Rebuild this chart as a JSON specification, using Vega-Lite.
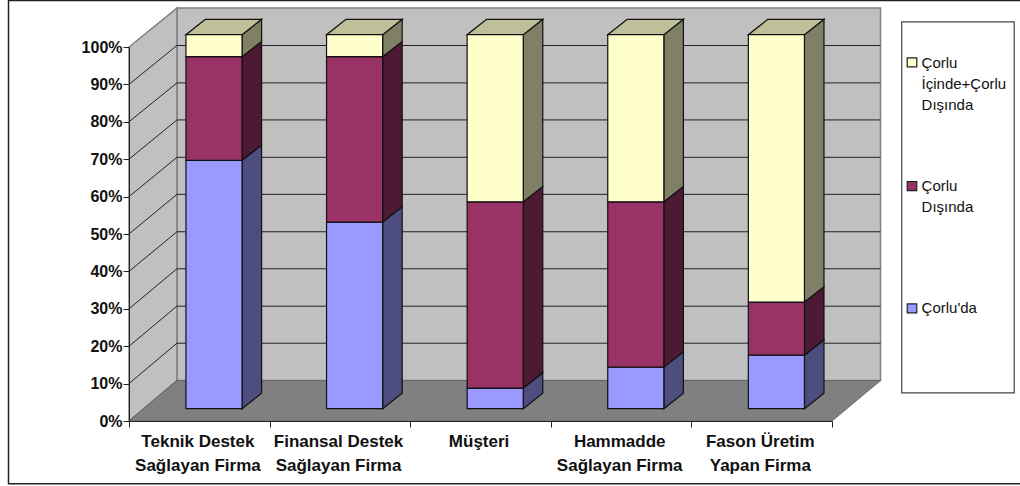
{
"$schema":"https://vega.github.io/schema/vega-lite/v6.json",
"width":703,"height":374,"autosize":"none",
"padding":{"left":129,"top":47,"right":188,"bottom":65},
"background":"white",
"config":{"view":{"stroke":null},"font":"Liberation Sans"},
"datasets":{
"frame":[{"part":"chart","x":-0.857,"x2":6.37,"y":112.4,"y2":-16.8}],
"backwall":[{"x":0.341,"x2":5.345,"y":10.8,"y2":110.4}],
"leftwall":[{"x":0,"y":0,"y2":100},{"x":0.341,"y":10.8,"y2":110.4}],
"floor":[{"x":0,"x2":5,"y":0},{"x":0.341,"x2":5.345,"y":10.8}],
"grid":[
{"x":0,"x2":0.341,"y":10,"y2":20.8},{"x":0,"x2":0.341,"y":20,"y2":30.7},{"x":0,"x2":0.341,"y":30,"y2":40.7},{"x":0,"x2":0.341,"y":40,"y2":50.6},{"x":0,"x2":0.341,"y":50,"y2":60.6},{"x":0,"x2":0.341,"y":60,"y2":70.5},{"x":0,"x2":0.341,"y":70,"y2":80.5},{"x":0,"x2":0.341,"y":80,"y2":90.4},{"x":0,"x2":0.341,"y":90,"y2":100.4},
{"x":0.341,"x2":5.345,"y":20.8,"y2":20.8},{"x":0.341,"x2":5.345,"y":30.7,"y2":30.7},{"x":0.341,"x2":5.345,"y":40.7,"y2":40.7},{"x":0.341,"x2":5.345,"y":50.6,"y2":50.6},{"x":0.341,"x2":5.345,"y":60.6,"y2":60.6},{"x":0.341,"x2":5.345,"y":70.5,"y2":70.5},{"x":0.341,"x2":5.345,"y":80.5,"y2":80.5},{"x":0.341,"x2":5.345,"y":90.4,"y2":90.4},{"x":0.341,"x2":5.345,"y":100.4,"y2":100.4}
],
"sides":[
{"firm":"Teknik","series":"a","x":0.804,"y":3.3,"y2":69.7},{"firm":"Teknik","series":"a","x":0.943,"y":7.4,"y2":73.8},
{"firm":"Teknik","series":"b","x":0.804,"y":69.7,"y2":97.4},{"firm":"Teknik","series":"b","x":0.943,"y":73.8,"y2":101.5},
{"firm":"Teknik","series":"c","x":0.804,"y":97.4,"y2":103.3},{"firm":"Teknik","series":"c","x":0.943,"y":101.5,"y2":107.4},
{"firm":"Finansal","series":"a","x":1.804,"y":3.3,"y2":53.2},{"firm":"Finansal","series":"a","x":1.943,"y":7.4,"y2":57.3},
{"firm":"Finansal","series":"b","x":1.804,"y":53.2,"y2":97.4},{"firm":"Finansal","series":"b","x":1.943,"y":57.3,"y2":101.5},
{"firm":"Finansal","series":"c","x":1.804,"y":97.4,"y2":103.3},{"firm":"Finansal","series":"c","x":1.943,"y":101.5,"y2":107.4},
{"firm":"Musteri","series":"a","x":2.804,"y":3.3,"y2":8.8},{"firm":"Musteri","series":"a","x":2.943,"y":7.4,"y2":12.9},
{"firm":"Musteri","series":"b","x":2.804,"y":8.8,"y2":58.6},{"firm":"Musteri","series":"b","x":2.943,"y":12.9,"y2":62.7},
{"firm":"Musteri","series":"c","x":2.804,"y":58.6,"y2":103.3},{"firm":"Musteri","series":"c","x":2.943,"y":62.7,"y2":107.4},
{"firm":"Hammadde","series":"a","x":3.804,"y":3.3,"y2":14.4},{"firm":"Hammadde","series":"a","x":3.943,"y":7.4,"y2":18.5},
{"firm":"Hammadde","series":"b","x":3.804,"y":14.4,"y2":58.6},{"firm":"Hammadde","series":"b","x":3.943,"y":18.5,"y2":62.7},
{"firm":"Hammadde","series":"c","x":3.804,"y":58.6,"y2":103.3},{"firm":"Hammadde","series":"c","x":3.943,"y":62.7,"y2":107.4},
{"firm":"Fason","series":"a","x":4.804,"y":3.3,"y2":17.6},{"firm":"Fason","series":"a","x":4.943,"y":7.4,"y2":21.7},
{"firm":"Fason","series":"b","x":4.804,"y":17.6,"y2":31.8},{"firm":"Fason","series":"b","x":4.943,"y":21.7,"y2":35.9},
{"firm":"Fason","series":"c","x":4.804,"y":31.8,"y2":103.3},{"firm":"Fason","series":"c","x":4.943,"y":35.9,"y2":107.4}
],
"tops":[
{"firm":"Teknik","x":0.405,"x2":0.804,"y":103.3},{"firm":"Teknik","x":0.544,"x2":0.943,"y":107.4},
{"firm":"Finansal","x":1.405,"x2":1.804,"y":103.3},{"firm":"Finansal","x":1.544,"x2":1.943,"y":107.4},
{"firm":"Musteri","x":2.405,"x2":2.804,"y":103.3},{"firm":"Musteri","x":2.544,"x2":2.943,"y":107.4},
{"firm":"Hammadde","x":3.405,"x2":3.804,"y":103.3},{"firm":"Hammadde","x":3.544,"x2":3.943,"y":107.4},
{"firm":"Fason","x":4.405,"x2":4.804,"y":103.3},{"firm":"Fason","x":4.544,"x2":4.943,"y":107.4}
],
"fronts":[
{"firm":"Teknik","series":"a","x":0.405,"x2":0.804,"y":3.3,"y2":69.7},{"firm":"Teknik","series":"b","x":0.405,"x2":0.804,"y":69.7,"y2":97.4},{"firm":"Teknik","series":"c","x":0.405,"x2":0.804,"y":97.4,"y2":103.3},
{"firm":"Finansal","series":"a","x":1.405,"x2":1.804,"y":3.3,"y2":53.2},{"firm":"Finansal","series":"b","x":1.405,"x2":1.804,"y":53.2,"y2":97.4},{"firm":"Finansal","series":"c","x":1.405,"x2":1.804,"y":97.4,"y2":103.3},
{"firm":"Musteri","series":"a","x":2.405,"x2":2.804,"y":3.3,"y2":8.8},{"firm":"Musteri","series":"b","x":2.405,"x2":2.804,"y":8.8,"y2":58.6},{"firm":"Musteri","series":"c","x":2.405,"x2":2.804,"y":58.6,"y2":103.3},
{"firm":"Hammadde","series":"a","x":3.405,"x2":3.804,"y":3.3,"y2":14.4},{"firm":"Hammadde","series":"b","x":3.405,"x2":3.804,"y":14.4,"y2":58.6},{"firm":"Hammadde","series":"c","x":3.405,"x2":3.804,"y":58.6,"y2":103.3},
{"firm":"Fason","series":"a","x":4.405,"x2":4.804,"y":3.3,"y2":17.6},{"firm":"Fason","series":"b","x":4.405,"x2":4.804,"y":17.6,"y2":31.8},{"firm":"Fason","series":"c","x":4.405,"x2":4.804,"y":31.8,"y2":103.3}
],
"catlabels":[
{"x":0.49,"y":-3.4,"label":"Teknik Destek\nSağlayan Firma"},
{"x":1.49,"y":-3.4,"label":"Finansal Destek\nSağlayan Firma"},
{"x":2.49,"y":-3.4,"label":"Müşteri"},
{"x":3.49,"y":-3.4,"label":"Hammadde\nSağlayan Firma"},
{"x":4.49,"y":-3.4,"label":"Fason Üretim\nYapan Firma"}
],
"legendbox":[{"x":5.496,"x2":6.296,"y":106.7,"y2":7.5}],
"legendkeys":[
{"series":"c","x":5.535,"x2":5.603,"y":97.1,"y2":94.7},
{"series":"b","x":5.535,"x2":5.603,"y":64.0,"y2":61.6},
{"series":"a","x":5.535,"x2":5.603,"y":31.3,"y2":28.9}
],
"legendtext":[
{"x":5.637,"y":97.7,"label":"Çorlu\nİçinde+Çorlu\nDışında"},
{"x":5.637,"y":64.7,"label":"Çorlu\nDışında"},
{"x":5.637,"y":32.1,"label":"Çorlu'da"}
]
},
"encoding":{
"x":{"field":"x","type":"quantitative","scale":{"domain":[0,5],"nice":false,"zero":false},
"axis":{"title":null,"values":[0,1,2,3,4,5],"labels":false,"grid":false,"tickSize":6,"tickColor":"#222","domainColor":"#222","zindex":1}},
"y":{"field":"y","type":"quantitative","scale":{"domain":[0,100],"nice":false,"zero":false},
"axis":{"title":null,"values":[0,10,20,30,40,50,60,70,80,90,100],"labelExpr":"datum.value + '%'","grid":false,"tickSize":6,"labelPadding":1,"labelFontSize":16,"labelFontWeight":"bold","labelColor":"#111","tickColor":"#222","domainColor":"#222","zindex":1}}
},
"resolve":{"scale":{"color":"independent"}},
"layer":[
{"data":{"name":"frame"},"mark":{"type":"rect","fill":"white","stroke":"#222","strokeWidth":1.5},"encoding":{"x2":{"field":"x2"},"y2":{"field":"y2"}}},
{"data":{"name":"backwall"},"mark":{"type":"rect","fill":"#C0C0C0","stroke":"#808080","strokeWidth":1.5},"encoding":{"x2":{"field":"x2"},"y2":{"field":"y2"}}},
{"data":{"name":"leftwall"},"mark":{"type":"area","orient":"vertical","fill":"#C0C0C0","stroke":"#808080","strokeWidth":1.5},"encoding":{"y2":{"field":"y2"}}},
{"data":{"name":"grid"},"mark":{"type":"rule","color":"#222","strokeWidth":1},"encoding":{"x2":{"field":"x2"},"y2":{"field":"y2"}}},
{"data":{"name":"floor"},"mark":{"type":"area","orient":"horizontal","fill":"#808080","stroke":"#666666","strokeWidth":1},"encoding":{"x2":{"field":"x2"}}},
{"data":{"name":"sides"},"mark":{"type":"area","orient":"vertical","stroke":"#111","strokeWidth":1.2},"encoding":{"y2":{"field":"y2"},"detail":{"field":"firm"},
"color":{"field":"series","type":"nominal","scale":{"domain":["a","b","c"],"range":["#4D4D80","#4D1A33","#808066"]},"legend":null}}},
{"data":{"name":"tops"},"mark":{"type":"area","orient":"horizontal","fill":"#BFBF99","stroke":"#111","strokeWidth":1.2},"encoding":{"x2":{"field":"x2"},"detail":{"field":"firm"}}},
{"data":{"name":"fronts"},"mark":{"type":"rect","stroke":"#111","strokeWidth":1.2},"encoding":{"x2":{"field":"x2"},"y2":{"field":"y2"},
"color":{"field":"series","type":"nominal","scale":{"domain":["a","b","c"],"range":["#9999FF","#993366","#FFFFCC"]},"legend":null}}},
{"data":{"name":"catlabels"},"mark":{"type":"text","lineBreak":"\n","lineHeight":24,"baseline":"top","align":"center","fontSize":17,"fontWeight":"bold","color":"#111"},"encoding":{"text":{"field":"label"}}},
{"data":{"name":"legendbox"},"mark":{"type":"rect","fill":"white","stroke":"#444","strokeWidth":1.2},"encoding":{"x2":{"field":"x2"},"y2":{"field":"y2"}}},
{"data":{"name":"legendkeys"},"mark":{"type":"rect","stroke":"#222","strokeWidth":1.2},"encoding":{"x2":{"field":"x2"},"y2":{"field":"y2"},
"color":{"field":"series","type":"nominal","scale":{"domain":["a","b","c"],"range":["#9999FF","#993366","#FFFFCC"]},"legend":null}}},
{"data":{"name":"legendtext"},"mark":{"type":"text","lineBreak":"\n","lineHeight":21,"baseline":"top","align":"left","fontSize":15,"color":"#111"},"encoding":{"text":{"field":"label"}}}
]
}
